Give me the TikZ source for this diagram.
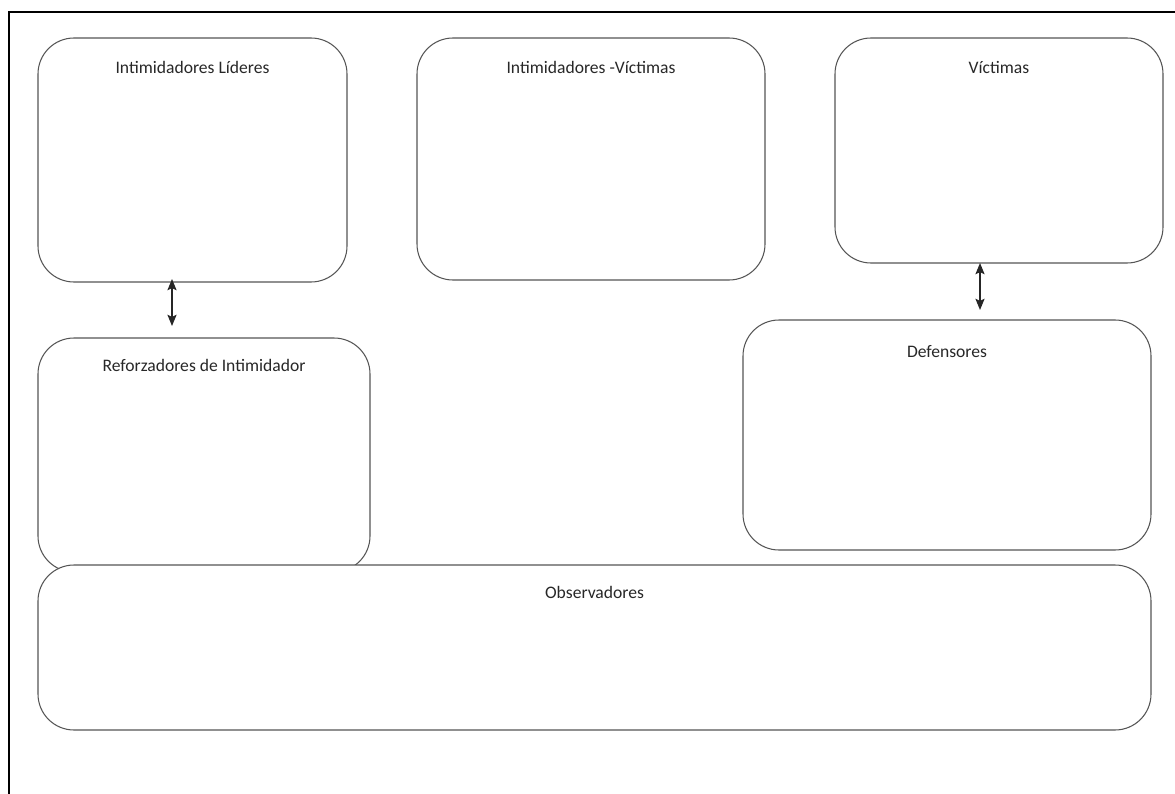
\documentclass[tikz,border=0pt]{standalone}
\usepackage{fontspec}
\setmainfont{Carlito}
\usepackage{tikz}
\usetikzlibrary{positioning,arrows.meta,fit}
\definecolor{boxline}{RGB}{85,85,85}
\definecolor{txtgray}{RGB}{40,40,40}

\begin{document}
\begin{tikzpicture}[
  x=0.025cm, y=-0.025cm,
  box/.style={rectangle, rounded corners=0.9cm, draw=boxline,
    line width=0.75pt, fill=white, inner sep=0pt, outer sep=0pt},
  lbl/.style={anchor=north, inner sep=0pt, text=txtgray,
    font=\fontsize{12.5}{15}\selectfont, yshift=-0.58cm},
  arr/.style={{Stealth[length=8pt,width=6.5pt,inset=1.5pt]}-{Stealth[length=8pt,width=6.5pt,inset=1.5pt]},
    line width=1pt, color=black!85},
]
\path[use as bounding box, clip] (0,0) rectangle (1175,794);
\draw[line width=1pt] (9,12) rectangle (1200,820);

% upper row
\node[box, fit={(38,38) (347,282)},
  label={[lbl]north:Intimidadores Líderes}] (lider) {};
\node[box, fit={(417,38) (765,280)},
  label={[lbl]north:Intimidadores -Víctimas}] (intvic) {};
\node[box, fit={(835,38) (1163,263)},
  label={[lbl]north:Víctimas}] (victimas) {};

% middle row
\node[box, fit={(38,338) (370,572)},
  label={[lbl, yshift=0.05cm]north:Reforzadores de Intimidador}] (reforz) {};
\node[box, fit={(743,320) (1151,550)},
  label={[lbl, yshift=-0.05cm]north:Defensores}] (defens) {};

% bottom
\node[box, fit={(38,565) (1151,730)},
  label={[lbl, yshift=0.05cm]north:Observadores}] (observ) {};

\coordinate (a1) at (172,279);
\coordinate (a2) at (172,326);
\coordinate (b1) at (980,263);
\coordinate (b2) at (980,310);
\draw[arr] (a1) -- (a2);
\draw[arr] (b1) -- (b2);
\end{tikzpicture}
\end{document}
